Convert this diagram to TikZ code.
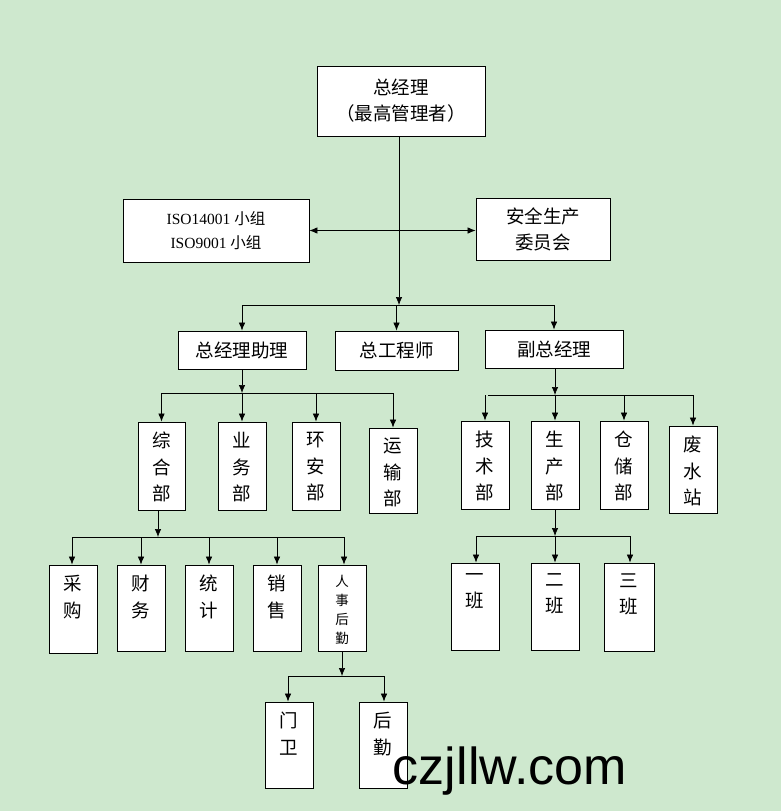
\documentclass[tikz,border=0pt]{standalone}
\usepackage{fontspec}
\setmainfont{Liberation Serif}
\newfontfamily\cjk{Noto Sans CJK SC}
\usetikzlibrary{arrows.meta}
\definecolor{bg}{RGB}{206,232,206}
\tikzset{box/.style={draw=black,fill=white,line width=0.8pt,inner sep=0pt,align=center,font=\cjk\fontsize{18.5}{26}\selectfont},
lab/.style={inner sep=0pt,align=center,anchor=north,font=\cjk\fontsize{18.5}{26.5}\selectfont},
arr/.style={-{Latex[length=8pt,width=6.5pt]},line width=0.7pt},
ln/.style={line width=0.7pt}}
\newcommand\bx[7][]{%
\pgfmathsetmacro\cx{(#3+#5)/2}\pgfmathsetmacro\cy{-(#4+#6)/2}%
\pgfmathsetmacro\ww{#5-#3}\pgfmathsetmacro\hh{#6-#4}%
\node[box,minimum width=\ww pt,minimum height=\hh pt,#1] (#2) at (\cx,\cy) {#7};}
\newcommand\vb[7][]{%
\bx{#2}{#3}{#4}{#5}{#6}{}%
\node[lab,#1] (#2t) at ([yshift=-10.5pt]#2.north) {#7};}
\begin{document}
\begin{tikzpicture}[x=1pt,y=1pt]
\fill[bg] (0,0) rectangle (781,-811);
\useasboundingbox (0,0) rectangle (781,-811);
\bx{gm}{317}{66}{485}{136}{总经理\\（最高管理者）}
\bx[font=\fontsize{15.5}{24}\selectfont]{iso}{123}{199}{309}{262}{ISO14001 {\cjk 小组}\\ISO9001 {\cjk 小组}}
\bx{aq}{476}{198}{610}{260}{安全生产\\委员会}
\bx{zl}{178}{331}{306}{369}{总经理助理}
\bx{gc}{335}{331}{458}{370}{总工程师}
\bx{fz}{485}{330}{623}{368}{副总经理}
\vb{zh}{138}{422}{185}{510}{综\\合\\部}
\vb{yw}{218}{422}{266}{510}{业\\务\\部}
\vb{ha}{292}{422}{340}{510}{环\\安\\部}
\vb{ys}{369}{428}{417}{513}{运\\输\\部}
\vb{js}{461}{421}{509}{509}{技\\术\\部}
\vb{sc}{531}{421}{579}{509}{生\\产\\部}
\vb{cc}{600}{421}{648}{509}{仓\\储\\部}
\vb{fs}{669}{426}{717}{513}{废\\水\\站}
\vb{cg}{49}{565}{97}{653}{采\\购}
\vb{cw}{117}{565}{165}{651}{财\\务}
\vb{tj}{185}{565}{233}{651}{统\\计}
\vb{xs}{253}{565}{301}{651}{销\\售}
\vb[font=\cjk\fontsize{13.5}{19}\selectfont]{rs}{318}{565}{366}{651}{人\\事\\后\\勤}
\vb{mw}{265}{702}{313}{788}{门\\卫}
\vb{hq}{359}{702}{407}{788}{后\\勤}
\vb{b1}{451}{563}{499}{650}{一\\班}
\vb{b2}{531}{563}{579}{650}{二\\班}
\vb{b3}{604}{563}{654}{651}{三\\班}
% top
\coordinate (t1) at (399,-305);
\draw[arr] (gm.south -| t1) -- (t1);
\draw[arr,{Latex[length=8pt,width=6.5pt]}-{Latex[length=8pt,width=6.5pt]}] (iso.east) -- (aq.west |- iso.east);
\draw[ln] (242,-305) -- (555,-305);
\foreach \n in {zl,gc,fz} \draw[arr] (\n.north |- t1) -- (\n.north);
% zl
\coordinate (t2) at (242,-393);
\draw[arr] (zl.south -| t2) -- (t2);
\draw[ln] (162,-393) -- (394,-393);
\foreach \n in {zh,yw,ha,ys} \draw[arr] (\n.north |- t2) -- (\n.north);
% fz
\coordinate (t3) at (555,-395);
\draw[arr] (fz.south -| t3) -- (t3);
\draw[ln] (488,-395) -- (694,-395);
\foreach \n in {js,sc,cc,fs} \draw[arr] (\n.north |- t3) -- (\n.north);
% zh
\coordinate (t4) at (158,-537);
\draw[arr] (zh.south -| t4) -- (t4);
\draw[ln] (72,-537) -- (344,-537);
\draw[arr] (72,-537) -- (cg.north -| 72,0);
\draw[arr] (141,-537) -- (cw.north);
\draw[arr] (209,-537) -- (tj.north);
\draw[arr] (277,-537) -- (xs.north);
\draw[arr] (344,-537) -- (rs.north -| 344,0);
% rs
\coordinate (t5) at (342,-676);
\draw[arr] (rs.south -| t5) -- (t5);
\draw[ln] (288,-676) -- (384,-676);
\draw[arr] (288,-676) -- (mw.north -| 288,0);
\draw[arr] (384,-676) -- (hq.north -| 384,0);
% sc
\coordinate (t6) at (555,-536);
\draw[arr] (sc.south -| t6) -- (t6);
\draw[ln] (476,-536) -- (630,-536);
\draw[arr] (476,-536) -- (b1.north -| 476,0);
\draw[arr] (555,-536) -- (b2.north);
\draw[arr] (630,-536) -- (b3.north -| 630,0);
\node[font=\fontspec{Liberation Sans}\fontsize{52}{58}\selectfont] (wm) at (510,-771) {czjllw.com};
\end{tikzpicture}
\end{document}
